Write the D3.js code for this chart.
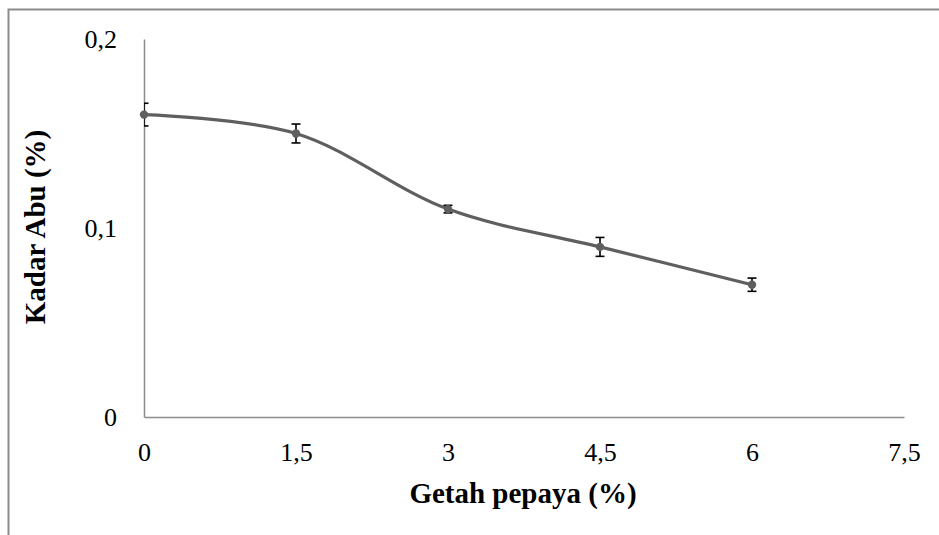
<!DOCTYPE html>
<html>
<head>
<meta charset="utf-8">
<script src="https://cdn.jsdelivr.net/npm/d3@7"></script>
<style>
  body { margin: 0; background: #fff; }
  svg { display: block; font-family: "Liberation Serif", "Times New Roman", serif; }
</style>
</head>
<body>
<svg width="939" height="535"></svg>
<script>
// getah pepaya (%) vs kadar abu (%)
const dose = [0, 1.5, 3, 4.5, 6];
const ash = [0.16, 0.15, 0.11, 0.09, 0.07];
const ashErr = [0.006, 0.005, 0.002, 0.005, 0.0035];
const xTicks = [0, 1.5, 3, 4.5, 6, 7.5];
const yTicks = [0, 0.1, 0.2];

const svg = d3.select("svg");
const fmt = d => String(d).replace(".", ",");

// outer frame (runs off the right and bottom edges)
svg.append("path")
  .attr("d", "M8.5,960V9.5H960")
  .attr("fill", "none")
  .attr("stroke", "#8c8c8c")
  .attr("stroke-width", 2);

const x = d3.scaleLinear().domain([0, 7.5]).range([144, 904]);
const y = d3.scaleLinear().domain([0, 0.2]).range([417, 39]);

svg.append("defs").append("clipPath").attr("id", "plot")
  .append("rect").attr("x", 144).attr("y", 0).attr("width", 800).attr("height", 420);

// axes
const xAxis = svg.append("g")
  .attr("transform", "translate(0,417)")
  .call(d3.axisBottom(x).tickValues(xTicks).tickSize(0).tickPadding(26).tickFormat(fmt));
const yAxis = svg.append("g")
  .attr("transform", "translate(144,0)")
  .call(d3.axisLeft(y).tickValues(yTicks).tickSize(0).tickPadding(27).tickFormat(fmt));

[xAxis, yAxis].forEach(g => {
  g.select(".domain").attr("stroke", "#8c8c8c").attr("stroke-width", 1.5);
  g.selectAll("text")
    .attr("font-family", "Liberation Serif, serif")
    .attr("font-size", 26)
    .attr("fill", "#000");
});
xAxis.selectAll("text").attr("dy", "0.71em");

// line
const line = d3.line()
  .x((d, i) => x(dose[i]))
  .y(d => y(d))
  .curve(d3.curveCatmullRom.alpha(0.5));

svg.append("path")
  .datum(ash)
  .attr("d", line)
  .attr("fill", "none")
  .attr("stroke", "#5f5f5f")
  .attr("stroke-width", 3.2);

// error bars
const eb = svg.append("g").attr("clip-path", "url(#plot)")
  .attr("stroke", "#000").attr("stroke-width", 1.6);
ash.forEach((v, i) => {
  const cx = x(dose[i]);
  const y1 = y(v + ashErr[i]), y2 = y(v - ashErr[i]);
  eb.append("line").attr("x1", cx).attr("x2", cx).attr("y1", y1).attr("y2", y2);
  eb.append("line").attr("x1", cx - 4.5).attr("x2", cx + 4.5).attr("y1", y1).attr("y2", y1);
  eb.append("line").attr("x1", cx - 4.5).attr("x2", cx + 4.5).attr("y1", y2).attr("y2", y2);
});

// markers
svg.append("g").selectAll("circle")
  .data(ash)
  .enter().append("circle")
  .attr("cx", (d, i) => x(dose[i]))
  .attr("cy", d => y(d))
  .attr("r", 4.2)
  .attr("fill", "#5f5f5f");

// titles
svg.append("text")
  .attr("x", 523).attr("y", 503)
  .attr("text-anchor", "middle")
  .attr("font-size", 29).attr("font-weight", "bold")
  .text("Getah pepaya (%)");

svg.append("text")
  .attr("transform", "translate(45,227) rotate(-90)")
  .attr("text-anchor", "middle")
  .attr("font-size", 29).attr("font-weight", "bold")
  .text("Kadar Abu (%)");
</script>
</body>
</html>
